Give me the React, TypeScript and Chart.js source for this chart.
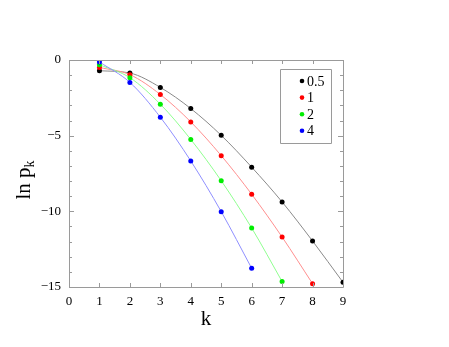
import React, { useEffect, useRef } from "react";
import { Chart, registerables } from "chart.js";

Chart.register(...registerables);

const K_VALUES = [1, 2, 3, 4, 5, 6, 7, 8, 9];
const SERIES_LABELS = ["0.5", "1", "2", "4"];
const LN_P_05 = [-0.71, -0.86, -1.81, -3.21, -4.98, -7.08, -9.38, -11.96, -14.69];
const LN_P_1 = [-0.49, -0.97, -2.28, -4.09, -6.32, -8.87, -11.7, -14.78];
const LN_P_2 = [-0.31, -1.17, -2.92, -5.25, -7.98, -11.1, -14.64];
const LN_P_4 = [-0.13, -1.48, -3.78, -6.67, -10.02, -13.76];
const X_TICKS = [0, 1, 2, 3, 4, 5, 6, 7, 8, 9];
const Y_TICKS = [0, -5, -10, -15];

const FONT = "Liberation Serif, Times New Roman, serif";
const FRAME = "#9a9a9a";

const POINT_COLORS = ["#000000", "#ff0000", "#00ee00", "#0000ff"];
const LINE_COLORS = ["#8a8a8a", "#ff8f8f", "#8fff8f", "#8f8fff"];

const toPoints = (vals: number[]) => vals.map((y, i) => ({ x: K_VALUES[i], y }));

const framePlugin = {
  id: "frame",
  afterDraw(chart: any) {
    const ctx = chart.ctx;
    const { left, right, top, bottom } = chart.chartArea;
    const xs = chart.scales.x;
    const ys = chart.scales.y;
    ctx.save();
    ctx.strokeStyle = FRAME;
    ctx.lineWidth = 1;
    ctx.beginPath();
    ctx.rect(Math.round(left) + 0.5, Math.round(top) + 0.5, Math.round(right - left), Math.round(bottom - top));
    ctx.stroke();
    ctx.beginPath();
    for (const v of X_TICKS) {
      const px = Math.round(xs.getPixelForValue(v)) + 0.5;
      ctx.moveTo(px, bottom);
      ctx.lineTo(px, bottom - 4);
      ctx.moveTo(px, top);
      ctx.lineTo(px, top + 4);
    }
    for (let v = 0; v >= -15; v--) {
      const py = Math.round(ys.getPixelForValue(v)) + 0.5;
      const len = v % 5 === 0 ? 5 : 3;
      ctx.moveTo(left, py);
      ctx.lineTo(left + len, py);
      ctx.moveTo(right, py);
      ctx.lineTo(right - len, py);
    }
    ctx.stroke();

    ctx.fillStyle = "#000";
    ctx.font = `21px ${FONT}`;
    ctx.textAlign = "center";
    ctx.textBaseline = "alphabetic";
    ctx.fillText("k", (left + right) / 2, 325);

    ctx.save();
    ctx.translate(30, 180);
    ctx.rotate(-Math.PI / 2);
    ctx.font = `21px ${FONT}`;
    const main = "ln p";
    const mw = ctx.measureText(main).width;
    ctx.font = `14px ${FONT}`;
    const sw = ctx.measureText("k").width;
    const total = mw + sw;
    ctx.textAlign = "left";
    ctx.font = `21px ${FONT}`;
    ctx.fillText(main, -total / 2, 0);
    ctx.font = `14px ${FONT}`;
    ctx.fillText("k", -total / 2 + mw, 4);
    ctx.restore();

    ctx.strokeStyle = FRAME;
    ctx.beginPath();
    ctx.rect(280.5, 69.5, 51, 74);
    ctx.stroke();
    ctx.font = `14px ${FONT}`;
    ctx.textAlign = "left";
    ctx.textBaseline = "middle";
    SERIES_LABELS.forEach((lab, i) => {
      const y = 81 + i * 16.6;
      ctx.fillStyle = POINT_COLORS[i];
      ctx.beginPath();
      ctx.arc(302, y, 2.3, 0, Math.PI * 2);
      ctx.fill();
      ctx.fillStyle = "#000";
      ctx.fillText(lab, 307, y + 1);
    });
    ctx.restore();
  },
};

export default function App() {
  const ref = useRef<HTMLCanvasElement | null>(null);
  useEffect(() => {
    if (!ref.current) return;
    const series = [LN_P_05, LN_P_1, LN_P_2, LN_P_4];
    const chart = new Chart(ref.current, {
      type: "line",
      data: {
        datasets: series.map((vals, i) => ({
          label: SERIES_LABELS[i],
          data: toPoints(vals),
          borderColor: LINE_COLORS[i],
          backgroundColor: POINT_COLORS[i],
          pointBackgroundColor: POINT_COLORS[i],
          pointBorderWidth: 0,
          pointRadius: 2.5,
          borderWidth: 1,
          cubicInterpolationMode: "monotone" as const,
          order: 3 - i,
        })),
      },
      options: {
        responsive: false,
        animation: false,
        layout: { padding: { left: 0, top: 60, right: 106, bottom: 0 } },
        plugins: { legend: { display: false }, tooltip: { enabled: false } },
        scales: {
          x: {
            type: "linear",
            min: 0,
            max: 9,
            afterFit: (s: any) => {
              s.height = 60;
            },
            afterBuildTicks: (s: any) => {
              s.ticks = X_TICKS.map((v) => ({ value: v }));
            },
            grid: { display: false, drawTicks: false },
            border: { display: false },
            ticks: {
              color: "#000",
              font: { family: FONT, size: 13 },
              padding: 7,
              maxRotation: 0,
            },
          },
          y: {
            type: "linear",
            min: -15,
            max: 0,
            afterFit: (s: any) => {
              s.width = 69;
            },
            afterBuildTicks: (s: any) => {
              s.ticks = Y_TICKS.map((v) => ({ value: v }));
            },
            grid: { display: false, drawTicks: false },
            border: { display: false },
            ticks: {
              color: "#000",
              font: { family: FONT, size: 13 },
              padding: 8,
              callback: (v: any) => String(v).replace("-", "\u2212"),
            },
          },
        },
      },
      plugins: [framePlugin],
    });
    return () => chart.destroy();
  }, []);
  return (
    <div style={{ position: "absolute", left: 0, top: 0, width: 449, height: 347, background: "#fff" }}>
      <canvas ref={ref} width={449} height={347} />
    </div>
  );
}
